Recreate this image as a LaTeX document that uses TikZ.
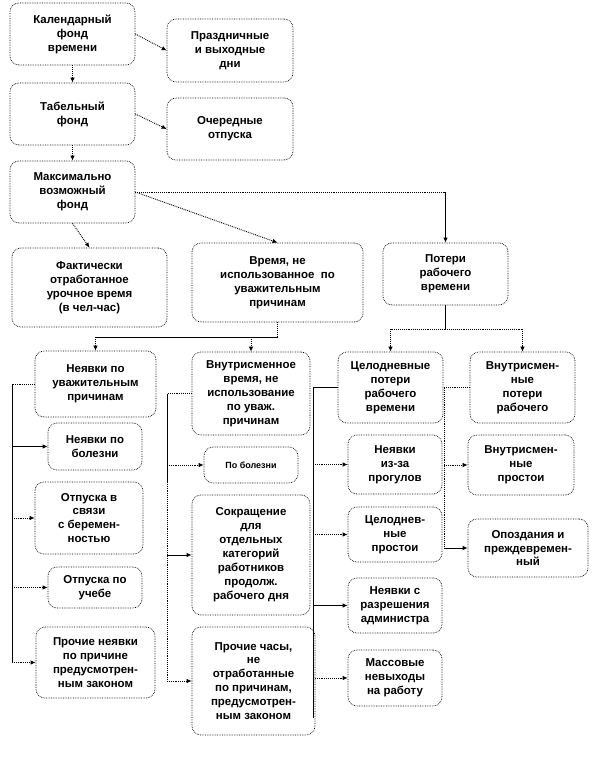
\documentclass[tikz,border=0pt]{standalone}
\usepackage{fontspec}
\setmainfont{Liberation Sans}
\usetikzlibrary{arrows.meta}
\begin{document}
\begin{tikzpicture}[x=1bp,y=-1bp,
  bx/.style={draw, densely dotted, line width=0.7bp, rounded corners=9bp, align=center, inner sep=0pt,
    font=\fontsize{11.5}{14}\selectfont\bfseries},
  dl/.style={densely dotted, line width=0.9bp},
  sl/.style={line width=1bp},
  ar/.style={-{Latex[length=5bp,width=4.5bp]}}]
\useasboundingbox (0,0) rectangle (600,759);
% top column
\node[bx, minimum width=125bp, minimum height=62bp] (kal) at (72.5,34) {Календарный\\фонд\\времени};
\node[bx, minimum width=126bp, minimum height=63bp] (prazd) at (230,50.5) {Праздничные\\и выходные\\дни};
\node[bx, minimum width=125bp, minimum height=62bp] (tab) at (72.5,114) {Табельный\\фонд};
\node[bx, minimum width=126bp, minimum height=62bp] (ocher) at (230,129) {Очередные\\отпуска};
\node[bx, minimum width=125bp, minimum height=62bp] (maks) at (72.5,192) {Максимально\\возможный\\фонд};
% second level
\node[bx, minimum width=155bp, minimum height=79bp] (fakt) at (89.5,287.5) {Фактически\\отработанное\\урочное время\\(в чел-час)};
\node[bx, minimum width=171bp, minimum height=79bp] (vremya) at (277.5,282.5) {Время, не\\использованное~~по\\уважительным\\причинам};
\node[bx, minimum width=125bp, minimum height=62bp] (poteri) at (445.5,274) {Потери\\рабочего\\времени};
% left column
\node[bx, minimum width=121bp, minimum height=66bp] (nevu) at (95.5,384) {Неявки по\\уважительным\\причинам};
\node[bx, minimum width=94bp, minimum height=47bp] (bolezni) at (95,446.5) {Неявки по\\болезни};
\node[bx, minimum width=108bp, minimum height=72bp] (berem) at (89,518) {Отпуска в\\связи\\с беремен-\\ностью};
\node[bx, minimum width=94bp, minimum height=41bp] (ucheba) at (95,587.5) {Отпуска по\\учебе};
\node[bx, minimum width=119bp, minimum height=71bp] (proch1) at (95.5,662.5) {Прочие неявки\\по причине\\предусмотрен-\\ным законом};
% middle-left column
\node[bx, minimum width=118bp, minimum height=83bp] (vnutr) at (251,393.5) {Внутрисменное\\время, не\\использование\\по уваж.\\причинам};
\node[bx, minimum width=94bp, minimum height=36bp, font=\fontsize{9}{11}\selectfont\bfseries] (pobol) at (251,465) {По болезни};
\node[bx, minimum width=118bp, minimum height=120bp] (sokr) at (251,555) {Сокращение\\для\\отдельных\\категорий\\работников\\продолж.\\рабочего дня};
\node[bx, minimum width=123bp, minimum height=108bp] (proch2) at (253.5,681) {Прочие часы,\\не\\отработанные\\по причинам,\\предусмотрен-\\ным законом};
% right columns
\node[bx, minimum width=105bp, minimum height=71bp] (celodn) at (390.5,387.5) {Целодневные\\потери\\рабочего\\времени};
\node[bx, minimum width=105bp, minimum height=71bp] (vnpot) at (522.5,387.5) {Внутрисмен-\\ные\\потери\\рабочего};
\node[bx, minimum width=94bp, minimum height=59bp] (progul) at (395,464.5) {Неявки\\из-за\\прогулов};
\node[bx, minimum width=106bp, minimum height=60bp] (vnprost) at (521,465) {Внутрисмен-\\ные\\простои};
\node[bx, minimum width=94bp, minimum height=55bp] (celprost) at (395,534.5) {Целоднев-\\ные\\простои};
\node[bx, minimum width=120bp, minimum height=58bp] (opozd) at (528,548) {Опоздания и\\преждевремен-\\ный};
\node[bx, minimum width=94bp, minimum height=55bp] (razresh) at (395,605.5) {Неявки с\\разрешения\\администра};
\node[bx, minimum width=94bp, minimum height=56bp] (massov) at (395,678) {Массовые\\невыходы\\на работу};

% top connectors
\draw[dl,ar] (kal.south) -- (tab.north);
\draw[dl,ar] (tab.south) -- (maks.north);
\draw[dl,ar] (kal.east) -- (prazd.west);
\draw[dl,ar] (tab.east) -- (ocher.west);
\draw[dl,ar] (maks.south) -- (fakt.north);
\draw[dl,ar] (maks.east) -- (vremya.north);
\draw[dl] (maks.east) -- (maks.east -| poteri.north) coordinate (jp);
\draw[sl,ar] (jp) -- (poteri.north);
% from vremya
\draw[dl] (vremya.south) -- ++(0,15) coordinate (j1);
\draw[sl] (j1) -- (j1 -| nevu.north);
\draw[dl,ar] (j1 -| nevu.north) -- (nevu.north);
\draw[dl,ar] (j1 -| vnutr.north) -- (vnutr.north);
% from poteri
\draw[sl] (poteri.south) -- ++(0,24) coordinate (j2);
\draw[dl] (j2 -| celodn.north) -- (j2 -| vnpot.north);
\draw[dl,ar] (j2 -| celodn.north) -- (celodn.north);
\draw[dl,ar] (j2 -| vnpot.north) -- (vnpot.north);
% left bus
\coordinate (L) at (12,0);
\draw[dl] (nevu.west) -- (nevu.west -| L);
\draw[sl] (nevu.west -| L) -- (proch1.west -| L);
\draw[sl,ar] (bolezni.west -| L) -- (bolezni.west);
\draw[dl,ar] (berem.west -| L) -- (berem.west);
\draw[dl,ar] (ucheba.west -| L) -- (ucheba.west);
\draw[dl,ar] (proch1.west -| L) -- (proch1.west);
% middle-left bus
\coordinate (M) at (167,0);
\coordinate (Mmid) at (167,482);
\draw[dl] (vnutr.west) -- (vnutr.west -| M);
\draw[sl] (vnutr.west -| M) -- (Mmid);
\draw[dl] (Mmid) -- (proch2.west -| M);
\draw[dl,ar] (pobol.west -| M) -- (pobol.west);
\draw[sl,ar] (sokr.west -| M) -- (sokr.west);
\draw[dl,ar] (proch2.west -| M) -- (proch2.west);
% right-middle bus
\coordinate (R) at (313,0);
\coordinate (Rend) at (313,718);
\draw[sl] (celodn.west) -- (celodn.west -| R) -- (Rend);
\draw[dl,ar] (progul.west -| R) -- (progul.west);
\draw[dl,ar] (celprost.west -| R) -- (celprost.west);
\draw[sl,ar] (razresh.west -| R) -- (razresh.west);
\draw[dl,ar] (massov.west -| R) -- (massov.west);
% right bus
\coordinate (Q) at (444,0);
\draw[dl] (vnpot.west) -- (vnpot.west -| Q) -- (opozd.west -| Q);
\draw[dl,ar] (vnprost.west -| Q) -- (vnprost.west);
\draw[sl,ar] (opozd.west -| Q) -- (opozd.west);
\end{tikzpicture}
\end{document}
